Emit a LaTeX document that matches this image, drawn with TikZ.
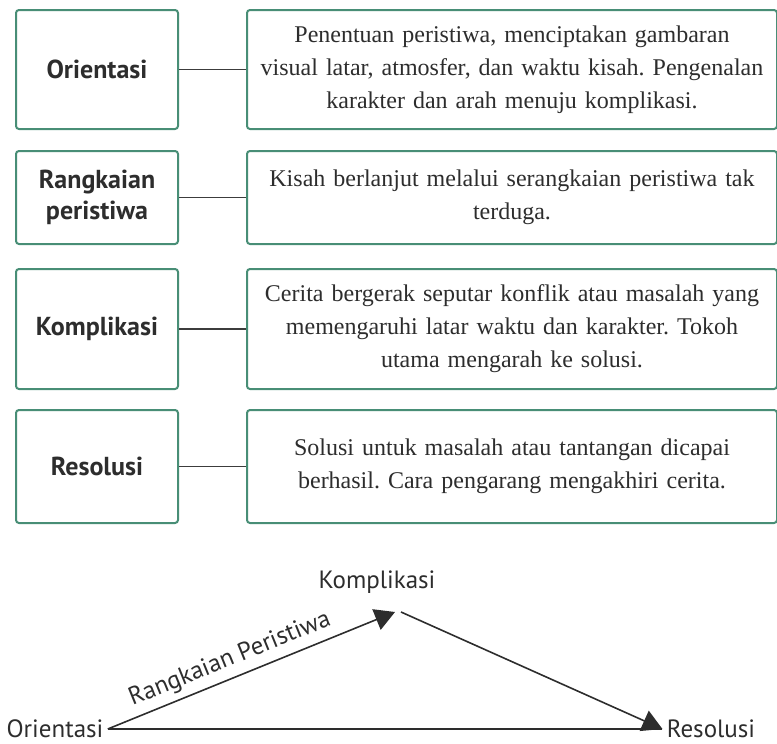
\documentclass[tikz,border=0pt]{standalone}
\usepackage{xcolor}
\usepackage{fontspec}
\setmainfont{Liberation Serif}
\setsansfont{PT Sans}
\usepackage{tikz}
\usetikzlibrary{positioning,arrows.meta}
\definecolor{boxgreen}{RGB}{72,142,118}
\definecolor{textgray}{RGB}{45,45,45}
\definecolor{linegray}{RGB}{60,60,60}
\frenchspacing

\begin{document}
\begin{tikzpicture}[x=0.5pt, y=-0.5pt, node distance=10pt,
  stagebox/.style={rectangle, rounded corners=1.5pt, draw=boxgreen, line width=1pt, fill=white, minimum width=81pt, align=center, text=textgray, font=\sffamily\bfseries\fontsize{13}{15.5}\selectfont},
  descbox/.style={rectangle, rounded corners=1.5pt, draw=boxgreen, line width=1pt, fill=white, minimum width=265pt, text width=258pt, align=center, text=textgray, font=\fontsize{12}{16.5}\selectfont},
  link/.style={draw=linegray, line width=0.7pt},
  plotlabel/.style={text=textgray, inner sep=2pt, font=\sffamily\fontsize{12.5}{14}\selectfont},
  flow/.style={draw=textgray, line width=0.8pt, -{Triangle[length=10pt, width=11pt]}}]
\useasboundingbox (0,0) rectangle (777,744);
\node (ori) [stagebox, minimum height=59.5pt] at (97,69.5) {Orientasi};
\node (orides) [descbox, minimum height=59.5pt, right=33.5pt of ori] {Penentuan peristiwa, menciptakan gambaran\\ visual latar, atmosfer, dan waktu kisah. Pengenalan\\ karakter dan arah menuju komplikasi.};
\node (rang) [stagebox, minimum height=46.5pt, below=10pt of ori] {Rangkaian\\ peristiwa};
\node (rangdes) [descbox, minimum height=46.5pt, right=33.5pt of rang] {Kisah berlanjut melalui serangkaian peristiwa tak\\ terduga.};
\node (kom) [stagebox, minimum height=60pt, below=11.5pt of rang] {Komplikasi};
\node (komdes) [descbox, minimum height=60pt, right=33.5pt of kom] {Cerita bergerak seputar konflik atau masalah yang\\ memengaruhi latar waktu dan karakter. Tokoh\\ utama mengarah ke solusi.};
\node (res) [stagebox, minimum height=56.5pt, below=9.5pt of kom] {Resolusi};
\node (resdes) [descbox, minimum height=56.5pt, right=33.5pt of res] {Solusi untuk masalah atau tantangan dicapai\\ berhasil. Cara pengarang mengakhiri cerita.};
\draw[link] (ori) -- (orides);
\draw[link] (rang) -- (rangdes);
\draw[link] (kom) -- (komdes);
\draw[link] (res) -- (resdes);
% alur cerita
\node (bori) [plotlabel] at (55,729) {Orientasi};
\node (bkom) [plotlabel] at (377,582) {Komplikasi};
\node (bres) [plotlabel] at (711,729) {Resolusi};
\coordinate (puncak) at (395,612);
\draw[flow] (bori.east) -- (puncak) node[pos=0.45, above, sloped, plotlabel, inner sep=3pt] {Rangkaian Peristiwa};
\draw[flow] ([xshift=3pt]puncak) -- (bres.west);
\draw[draw=textgray, line width=0.8pt] (bori.east) -- (bres.west);
\end{tikzpicture}
\end{document}
